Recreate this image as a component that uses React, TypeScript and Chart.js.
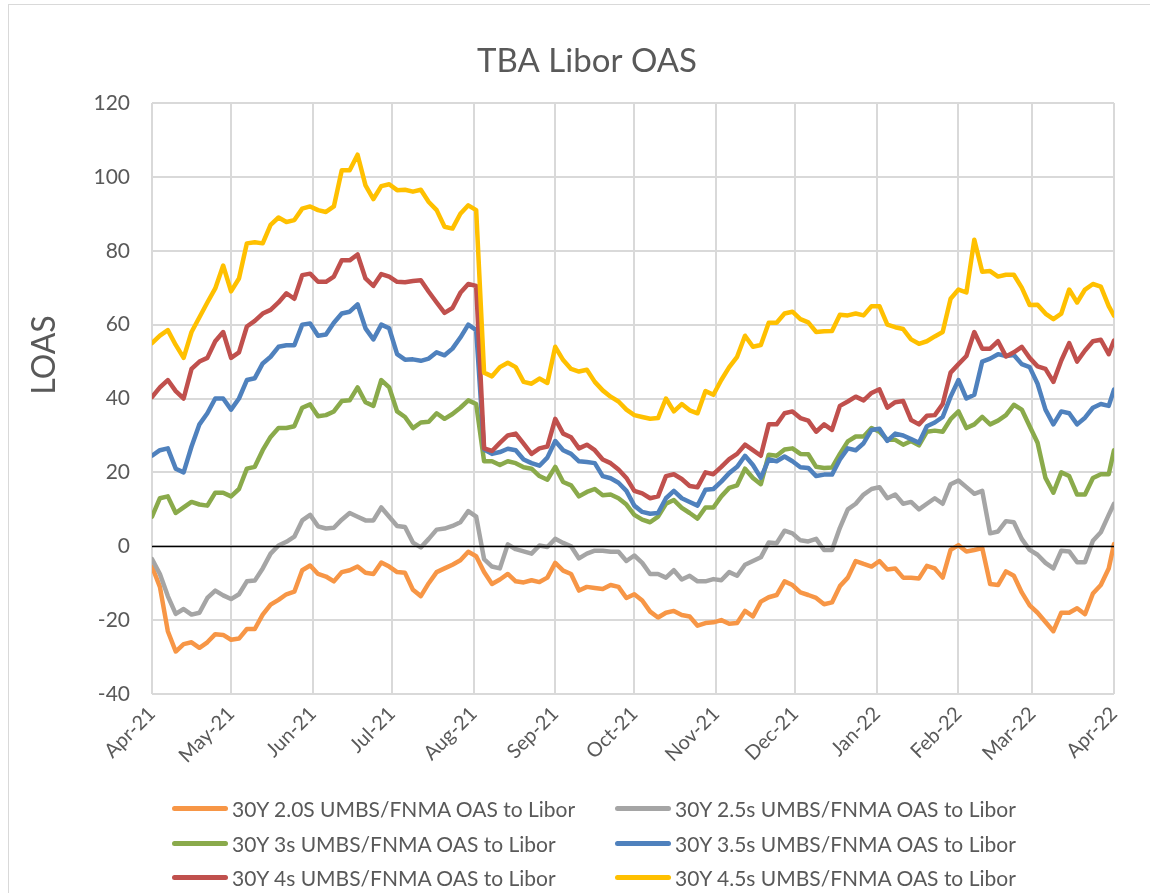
import React, { useEffect, useRef } from 'react';
import { Chart, registerables } from 'chart.js';

Chart.register(...registerables);

// day offsets from 1-Apr-2021
const days = [
  0, 3, 6, 9, 12, 15, 18, 21, 24, 27,
  30, 33, 36, 39, 42, 45, 48, 51, 54, 57,
  60, 63, 66, 69, 72, 75, 78, 81, 84, 87,
  90, 93, 96, 99, 102, 105, 108, 111, 114, 117,
  120, 123, 126, 129, 132, 135, 138, 141, 144, 147,
  150, 153, 156, 159, 162, 165, 168, 171, 174, 177,
  180, 183, 186, 189, 192, 195, 198, 201, 204, 207,
  210, 213, 216, 219, 222, 225, 228, 231, 234, 237,
  240, 243, 246, 249, 252, 255, 258, 261, 264, 267,
  270, 273, 276, 279, 282, 285, 288, 291, 294, 297,
  300, 303, 306, 309, 312, 315, 318, 321, 324, 327,
  330, 333, 336, 339, 342, 345, 348, 351, 354, 357,
  360, 363, 365,
];

const monthDays = [0, 30, 61, 91, 122, 153, 183, 214, 244, 275, 306, 334, 365];
const monthLabels = ['Apr-21', 'May-21', 'Jun-21', 'Jul-21', 'Aug-21', 'Sep-21', 'Oct-21', 'Nov-21', 'Dec-21', 'Jan-22', 'Feb-22', 'Mar-22', 'Apr-22'];
const yTicks = [-40, -20, 0, 20, 40, 60, 80, 100, 120];

const chartTitle = 'TBA Libor OAS';
const yAxisTitle = 'LOAS';

const seriesNames = [
  '30Y 2.0S UMBS/FNMA OAS to Libor',
  '30Y 2.5s UMBS/FNMA OAS to Libor',
  '30Y 3s UMBS/FNMA OAS to Libor',
  '30Y 3.5s UMBS/FNMA OAS to Libor',
  '30Y 4s UMBS/FNMA OAS to Libor',
  '30Y 4.5s UMBS/FNMA OAS to Libor',
];
const seriesColors = ['#F79646', '#A5A5A5', '#8AAA4B', '#4F81BD', '#C0504D', '#FFC000'];

const oas20 = [
  -5.5, -11, -23, -28.5, -26.5, -26, -27.5, -26, -23.8, -24,
  -25.3, -25, -22.4, -22.4, -18.5, -15.8, -14.5, -13, -12.3, -6.5,
  -5.2, -7.5, -8.2, -9.5, -7, -6.5, -5.5, -7.2, -7.5, -4.4,
  -5.5, -7, -7.2, -11.8, -13.5, -10, -7, -6, -5, -3.8,
  -1.5, -2.7, -7, -10.2, -9, -7.5, -9.5, -9.8, -9.2, -9.7,
  -8.5, -4.5, -6.6, -7.5, -12, -11, -11.3, -11.6, -10.5, -11,
  -14, -13, -14.7, -17.7, -19.3, -18, -17.5, -18.6, -19, -21.5,
  -20.8, -20.6, -20, -21, -20.8, -17.5, -19, -15, -13.8, -13.2,
  -9.5, -10.5, -12.5, -13.2, -14, -15.7, -15.2, -10.8, -8.5, -4,
  -4.8, -5.5, -4, -6.3, -6, -8.5, -8.5, -8.7, -5.3, -6,
  -8.5, -1, 0.3, -1.4, -1, -0.5, -10.2, -10.5, -6.8, -8,
  -12.5, -16, -18, -20.5, -23, -18, -18, -16.8, -18.4, -12.8,
  -10.5, -6, 0.6,
];

const oas25 = [
  -3.5, -7.5, -13.5, -18.3, -17, -18.5, -18, -14, -12, -13.3,
  -14.3, -13, -9.5, -9.3, -6, -2, 0.2, 1.2, 2.6, 7,
  8.5, 5.4, 4.8, 5, 7.2, 9, 8, 7, 7, 10.5,
  8, 5.5, 5.2, 1, -0.3, 2, 4.5, 4.8, 5.5, 6.5,
  9.5, 8, -3.5, -5.5, -6, 0.5, -0.8, -1.4, -2, 0.2,
  -0.2, 2, 0.9, 0, -3.3, -2, -1.2, -1.2, -1.5, -1.5,
  -4, -2.5, -4.5, -7.5, -7.5, -8.5, -6.5, -9, -8, -9.5,
  -9.5, -8.9, -9.2, -7, -8, -5, -4, -3, 1, 0.8,
  4.2, 3.5, 1.6, 1.3, 2, -1, -1, 5, 10, 11.5,
  14, 15.5, 16, 13, 14, 11.5, 12, 10, 11.5, 13,
  11.5, 16.8, 17.8, 16, 14.2, 15, 3.5, 4, 6.8, 6.5,
  2, -1, -2.3, -4.5, -6, -1.2, -1.4, -4.3, -4.3, 1.5,
  3.8, 8.5, 11.5,
];

const oas30 = [
  8, 13, 13.5, 9, 10.5, 12, 11.3, 11, 14.5, 14.5,
  13.5, 15.5, 21, 21.5, 26, 29.6, 32, 32, 32.5, 37.5,
  38.4, 35.2, 35.5, 36.5, 39.3, 39.5, 43, 39, 38, 45,
  43, 36.5, 35, 32, 33.5, 33.7, 36, 34.5, 35.8, 37.5,
  39.5, 38.5, 23, 23, 22, 23, 22.5, 21.4, 21, 19,
  18, 21.5, 17.4, 16.5, 13.5, 14.7, 15.5, 13.8, 14, 13,
  11.3, 8.5, 7.2, 6.5, 8, 11.5, 12.5, 10.4, 9, 7.5,
  10.5, 10.5, 13.5, 15.8, 16.5, 21, 18.5, 16.8, 24.8, 24.5,
  26.2, 26.5, 25, 24.9, 21.5, 21.2, 21.3, 25, 28.4, 29.7,
  29.7, 32, 31, 28.8, 28.8, 27.5, 28.5, 27.3, 31, 31.3,
  31, 34.4, 36.5, 32, 33, 35, 33, 34, 35.5, 38.3,
  37, 32.5, 28, 18.5, 14.5, 20, 19, 14, 14, 18.5,
  19.5, 19.5, 26,
];

const oas35 = [
  24.5, 26, 26.5, 21, 20, 27, 33, 36, 40, 40,
  37, 40, 45, 45.5, 49.5, 51.3, 54, 54.4, 54.4, 60,
  60.3, 57, 57.3, 60.5, 63, 63.5, 65.5, 59, 56, 60,
  59, 52, 50.5, 50.6, 50.2, 50.8, 52.5, 51.7, 53.5, 56.5,
  60, 58.5, 26.2, 25, 25.5, 26.4, 26, 23.5, 22.5, 21.8,
  24, 28.5, 26, 25, 23, 22.8, 22.5, 19, 18.4, 17.2,
  15, 11, 9.3, 8.8, 9, 13, 15, 13, 12, 11,
  15.3, 15.5, 17.5, 19.8, 21.5, 24.5, 22, 18.5, 23.5, 23,
  24.3, 23, 21.4, 21.2, 19, 19.4, 19.4, 23.5, 26.5, 26,
  27.9, 31.5, 31.8, 28.5, 30.5, 30, 29, 28, 32.5, 33.5,
  35, 40.5, 45, 40, 41, 50, 50.8, 52, 51.5, 51.8,
  49.3, 48.5, 44, 37, 33, 36.5, 36, 33, 34.8, 37.5,
  38.5, 38, 42.4,
];

const oas40 = [
  40.4, 43, 45, 42, 40, 48, 50, 51, 55.5, 58,
  51, 52.5, 59.5, 61, 63, 64, 66, 68.5, 67, 73.4,
  73.8, 71.6, 71.6, 73, 77.4, 77.4, 79, 72.5, 70.5, 73.7,
  73, 71.6, 71.5, 71.8, 72, 68.9, 66, 63.2, 64.5, 68.6,
  71, 70.5, 26.5, 25.8, 28, 30, 30.5, 27.8, 25, 26.5,
  27, 34.5, 30.5, 29.5, 26.5, 27.5, 26, 23.5, 22.5, 20.8,
  18.5, 15, 14.3, 13, 13.5, 19, 19.5, 18.2, 16.3, 16,
  20, 19.5, 21.5, 23.6, 25, 27.5, 26, 24.5, 33, 33,
  36, 36.5, 34.7, 34, 31, 33, 31.5, 38, 39.2, 40.5,
  39.5, 41.5, 42.5, 37.5, 39, 39.3, 34.2, 33, 35.3, 35.5,
  38.5, 47, 49.3, 51.5, 58, 53.5, 53.5, 55.5, 51.4, 52.5,
  54, 51, 48.7, 48, 44.5, 50.3, 55, 50, 53, 55.5,
  55.9, 52, 55.7,
];

const oas45 = [
  55, 57, 58.5, 54.5, 51, 58, 62, 66, 69.8, 76,
  69, 72.5, 82, 82.3, 82, 87, 89, 87.8, 88.3, 91.4,
  92, 91, 90.5, 92, 101.8, 101.8, 106, 97.7, 94, 97.5,
  98, 96.4, 96.5, 96, 96.5, 93.2, 91, 86.5, 86, 90,
  92.3, 91, 47, 46, 48.5, 49.7, 48.5, 44.5, 44, 45.4,
  44.2, 54, 50.4, 48, 47.3, 47.8, 44.5, 42.2, 40.5, 39.2,
  37, 35.5, 35, 34.5, 34.7, 40, 36.5, 38.5, 36.8, 36,
  42, 41, 45, 48.5, 51.3, 57, 54, 54.5, 60.5, 60.5,
  63, 63.5, 61.5, 60.6, 58, 58.2, 58.3, 62.7, 62.5, 63,
  62.5, 65, 65, 60, 59.3, 58.8, 56, 54.8, 55.5, 56.8,
  58, 67, 69.5, 68.7, 83, 74.3, 74.5, 73, 73.5, 73.5,
  70, 65.3, 65.4, 63, 61.5, 63, 69.5, 66, 69.5, 71,
  70.3, 65, 62.4,
];

const seriesValues = [oas20, oas25, oas30, oas35, oas40, oas45];

const FONT = 'Lato, "Open Sans", sans-serif';
const TEXT = '#595959';
const GRID = '#D9D9D9';

const CANVAS_W = 1158;
const CANVAS_H = 888;

const zeroLinePlugin = {
  id: 'zeroLine',
  afterDatasetsDraw(chart: any) {
    const { ctx, chartArea, scales } = chart;
    const y = Math.round(scales.y.getPixelForValue(0)) + 0.5;
    ctx.save();
    ctx.strokeStyle = '#000000';
    ctx.lineWidth = 1.5;
    ctx.beginPath();
    ctx.moveTo(chartArea.left, y);
    ctx.lineTo(chartArea.right, y);
    ctx.stroke();
    ctx.restore();
  },
};

const titlesPlugin = {
  id: 'titles',
  afterDraw(chart: any) {
    const { ctx } = chart;
    ctx.save();
    ctx.fillStyle = TEXT;
    ctx.font = `33px ${FONT}`;
    ctx.textAlign = 'center';
    ctx.textBaseline = 'alphabetic';
    ctx.fillText(chartTitle, 578, 67);
    ctx.translate(36, 350);
    ctx.rotate(-Math.PI / 2);
    ctx.font = `32px ${FONT}`;
    ctx.textBaseline = 'middle';
    ctx.fillText(yAxisTitle, 0, 0);
    ctx.restore();
  },
};

export default function App() {
  const canvasRef = useRef<HTMLCanvasElement | null>(null);

  useEffect(() => {
    if (!canvasRef.current) return;
    const datasets = seriesValues.map((vals, i) => ({
      label: seriesNames[i],
      data: vals.map((v, j) => ({ x: days[j], y: v })),
      borderColor: seriesColors[i],
      backgroundColor: seriesColors[i],
      borderWidth: 4.5,
      pointRadius: 0,
      pointHoverRadius: 0,
      tension: 0,
      fill: false,
      borderJoinStyle: 'round' as const,
      borderCapStyle: 'round' as const,
      order: seriesValues.length - i,
    }));

    const chart = new Chart(canvasRef.current, {
      type: 'line',
      data: { datasets },
      plugins: [zeroLinePlugin, titlesPlugin],
      options: {
        animation: false,
        responsive: false,
        maintainAspectRatio: false,
        layout: { padding: { left: 0, right: 53, top: 98, bottom: 100 } },
        plugins: {
          legend: { display: false },
          tooltip: { enabled: false },
          title: { display: false },
        },
        scales: {
          x: {
            type: 'linear',
            min: 0,
            max: 365,
            afterBuildTicks: (scale: any) => {
              scale.ticks = monthDays.map((v) => ({ value: v }));
            },
            afterFit: (scale: any) => {
              scale.height = 99;
              scale.paddingLeft = 0;
              scale.paddingRight = 0;
            },
            ticks: {
              autoSkip: false,
              minRotation: 45,
              maxRotation: 45,
              padding: 8,
              color: TEXT,
              font: { family: FONT, size: 20 },
              callback: (_v: any, index: number) => monthLabels[index],
            },
            grid: { color: GRID, lineWidth: 2, drawTicks: false },
            border: { display: false },
          },
          y: {
            type: 'linear',
            min: -40,
            max: 120,
            afterBuildTicks: (scale: any) => {
              scale.ticks = yTicks.map((v) => ({ value: v }));
            },
            afterFit: (scale: any) => {
              scale.width = 143;
              scale.paddingTop = 0;
              scale.paddingBottom = 0;
            },
            ticks: {
              padding: 22,
              color: TEXT,
              font: { family: FONT, size: 21 },
              callback: (v: any) => String(v),
            },
            grid: { color: GRID, lineWidth: 2, drawTicks: false },
            border: { display: false },
          },
        },
      },
    });
    return () => chart.destroy();
  }, []);

  const legendRows = [
    [0, 1],
    [2, 3],
    [4, 5],
  ];
  const colLeft = [163, 606];
  const rowTop = [803, 838, 872];

  return (
    <div
      style={{
        position: 'absolute',
        left: 8,
        top: 4,
        width: 1141,
        height: 888,
        borderLeft: `1px solid ${GRID}`,
        borderTop: `1px solid ${GRID}`,
        overflow: 'hidden',
        background: '#ffffff',
      }}
    >
      <canvas ref={canvasRef} width={CANVAS_W} height={CANVAS_H} style={{ display: 'block', width: CANVAS_W, height: CANVAS_H }} />
      {legendRows.map((row, r) =>
        row.map((si, c) => (
          <div
            key={si}
            style={{
              position: 'absolute',
              left: colLeft[c],
              top: rowTop[r] - 12,
              height: 24,
              display: 'flex',
              alignItems: 'center',
              whiteSpace: 'nowrap',
              fontFamily: FONT,
              fontSize: 21,
              color: TEXT,
            }}
          >
            <span style={{ display: 'inline-block', width: 56, height: 5, borderRadius: 2.5, background: seriesColors[si], marginRight: 4 }} />
            <span>{seriesNames[si]}</span>
          </div>
        ))
      )}
    </div>
  );
}
